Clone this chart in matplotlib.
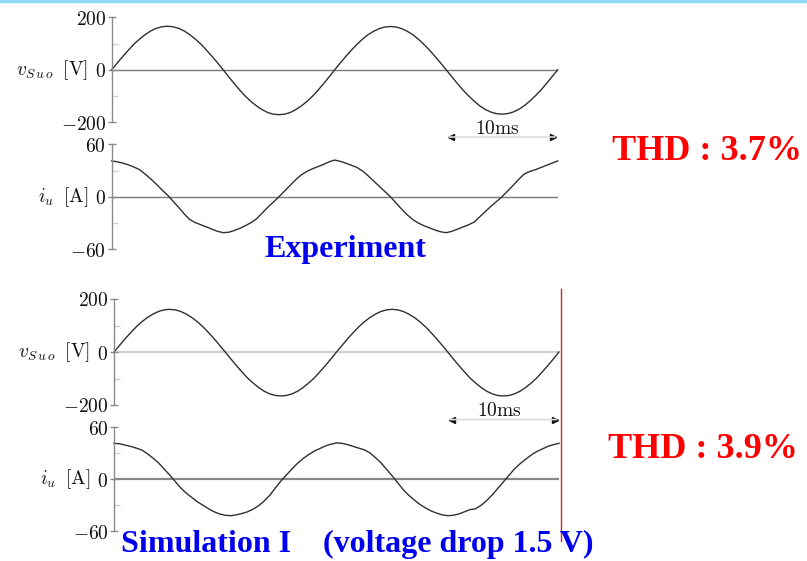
import numpy as np
import matplotlib
matplotlib.use("Agg")
from matplotlib import pyplot as plt
from matplotlib.lines import Line2D

plt.rcParams['mathtext.fontset'] = 'cm'

# time axis of the scope traces, ms (read every 0.5 ms)
t_ms = np.arange(0, 81) * 0.5

# experiment: phase voltage v_Suo [V] and phase current i_u [A]
v_exp = [0, 26, 51, 75, 98, 117, 134, 148, 158, 164, 166, 164, 158, 148, 134, 117, 98, 75, 51, 26,
         0, -27, -53, -78, -101, -121, -138, -152, -163, -169, -171, -169, -163, -152, -138, -121, -101, -78, -53, -27,
         0, 26, 51, 75, 97, 117, 134, 147, 157, 163, 165, 163, 157, 147, 134, 117, 97, 75, 51, 26,
         0, -26, -52, -77, -99, -119, -137, -151, -161, -167, -169, -167, -161, -151, -137, -119, -99, -77, -52, -26,
         0]
i_exp = [41, 40, 38.5, 36.5, 34, 31, 26, 20.5, 14.5, 8, 2, -5, -12, -19.5, -26, -29.5, -32, -34.5, -37, -39.5,
         -41, -40.5, -38.5, -36, -33, -29.5, -25, -18.5, -12, -6, 0, 6.5, 13, 19.5, 25, 29, 32, 34.5, 37, 40,
         42, 40.5, 38.5, 36, 33.5, 29.5, 24, 18, 12, 6, 0, -7, -14, -20.5, -26, -30, -33, -35.5, -38, -40,
         -41, -39.5, -37, -34.5, -32, -29, -23, -17, -11, -5.5, 0, 6.5, 13, 20, 26, 29, 31, 33.5, 36, 38.5,
         41]

# simulation I
v_sim = [0, 25, 50, 73, 95, 114, 130, 143, 153, 159, 161, 159, 153, 143, 130, 114, 95, 73, 50, 25,
         0, -26, -51, -75, -98, -117, -134, -148, -158, -164, -166, -164, -158, -148, -134, -117, -98, -75, -51, -26,
         0, 25, 50, 73, 95, 114, 130, 143, 153, 159, 161, 159, 153, 143, 130, 114, 95, 73, 50, 25,
         0, -26, -51, -75, -98, -117, -134, -148, -158, -164, -166, -164, -158, -148, -134, -117, -98, -75, -51, -26,
         0]
i_sim = [41.5, 41, 39.5, 38, 36, 33.8, 29.5, 24.5, 19, 12, 5, -2.5, -10, -16, -21, -26, -30, -34, -37.5, -40,
         -41.5, -42, -41, -39.5, -37.5, -34.5, -30.5, -25, -18.5, -10, -2, 5, 12, 18.5, 24, 28.5, 32.5, 35.5, 38.5, 40.5,
         42, 41.5, 40, 38, 36, 34, 30.5, 25, 19, 11.5, 4, -4, -12, -18.5, -24, -29, -33, -36.5, -39, -41,
         -42, -41.5, -40, -37.5, -35, -34, -30, -24.5, -18, -10.5, -3, 4.5, 12, 18, 23, 28, 32, 35, 38, 40,
         41.5]

v_ticks = [-200, 0, 200]
i_ticks = [-60, 0, 60]
v_label = r'$v_{S\,u\,o}\;\;\mathrm{[V]}$'
i_label = r'$i_{u}\;\;\mathrm{[A]}$'
scale_start, scale_end = 30, 40
thd_exp = 'THD : 3.7%'
thd_sim = 'THD : 3.9%'

W, H = 807, 561
fig = plt.figure(figsize=(W / 100, H / 100), dpi=100)


def px_axes(x0, x1, ytop, ybot):
    return fig.add_axes([x0 / W, 1 - ybot / H, (x1 - x0) / W, (ybot - ytop) / H])


def style_trace(ax, t, y, ticks, label, zero_color, zero_lw):
    lim = ticks[-1]
    ax.set_xlim(t[0], t[-1])
    ax.set_ylim(-lim, lim)
    ax.axhline(0, color=zero_color, lw=zero_lw, zorder=1)
    ax.plot(t, y, color='#303030', lw=1.0, zorder=2, clip_on=False)
    for s in ['top', 'right', 'bottom']:
        ax.spines[s].set_visible(False)
    ax.spines['left'].set_color('#8a8a8a')
    ax.spines['left'].set_linewidth(1.0)
    ax.set_xticks([])
    ax.set_yticks(ticks)
    ax.set_yticklabels(['$%d$' % v for v in ticks])
    ax.set_yticks([-lim / 2, lim / 2], minor=True)
    ax.tick_params(axis='y', which='major', direction='inout', length=6, width=1,
                   color='#8a8a8a', labelsize=14, pad=1, labelcolor='#111111')
    ax.tick_params(axis='y', which='minor', direction='in', length=4, width=1, color='#cfcfcf')
    ax.patch.set_visible(False)
    ax.annotate(label, xy=(0, 0), xycoords=('axes fraction', 'data'), xytext=(-17, 0),
                textcoords='offset points', ha='right', va='center', fontsize=14, color='#111111')


def time_scale(ax, y):
    ax.annotate('', xy=(scale_start, y), xytext=(scale_end, y), xycoords='data',
                arrowprops=dict(arrowstyle='-', color='#dddddd', lw=1.2), annotation_clip=False)
    ax.plot([scale_start + 0.4], [y], marker='<', color='#111111', ms=4, clip_on=False)
    ax.plot([scale_end - 0.4], [y], marker='>', color='#111111', ms=4, clip_on=False)
    ax.text((scale_start + scale_end) / 2 - 0.4, y + 33, r'$\mathrm{10ms}$', ha='center', va='center',
            fontsize=14, color='#111111', clip_on=False)


ax1 = px_axes(111.7, 557.7, 17.3, 122.3)
style_trace(ax1, t_ms, v_exp, v_ticks, v_label, '#7a7a7a', 1.0)
time_scale(ax1, -256)

ax2 = px_axes(111.7, 557.7, 144.3, 249.3)
style_trace(ax2, t_ms, i_exp, i_ticks, i_label, '#7a7a7a', 1.0)

ax3 = px_axes(114.0, 559.0, 299.0, 405.0)
style_trace(ax3, t_ms, v_sim, v_ticks, v_label, '#d0d0d0', 1.6)
time_scale(ax3, -255)

ax4 = px_axes(114.0, 559.0, 427.3, 531.3)
style_trace(ax4, t_ms, i_sim, i_ticks, i_label, '#888888', 1.6)

serif_bold = dict(family='Liberation Serif', weight='bold')
fig.text(345 / W, 1 - 257 / H, 'Experiment', ha='center', va='baseline', fontsize=23, color='#0000ee', **serif_bold)
fig.text(121 / W, 1 - 552 / H, 'Simulation I', ha='left', va='baseline', fontsize=23, color='#0000ee', **serif_bold)
fig.text(323 / W, 1 - 552 / H, '(voltage drop 1.5 V)', ha='left', va='baseline', fontsize=23, color='#0000ee',
         **serif_bold)
fig.text(612 / W, 1 - 160 / H, thd_exp, ha='left', va='baseline', fontsize=26, color='#ff0000', **serif_bold)
fig.text(608 / W, 1 - 458 / H, thd_sim, ha='left', va='baseline', fontsize=26, color='#ff0000', **serif_bold)

# slide decorations: cyan rule at the top, red divider on the right of the lower plot
fig.add_artist(Line2D([0, 1], [1 - 1 / H, 1 - 1 / H], color='#8fdcf2', lw=2.5))
fig.add_artist(Line2D([561 / W, 561 / W], [1 - 289 / H, 1 - 541 / H], color='#e02020', lw=1.0))

fig.savefig('out.png', dpi=100)
